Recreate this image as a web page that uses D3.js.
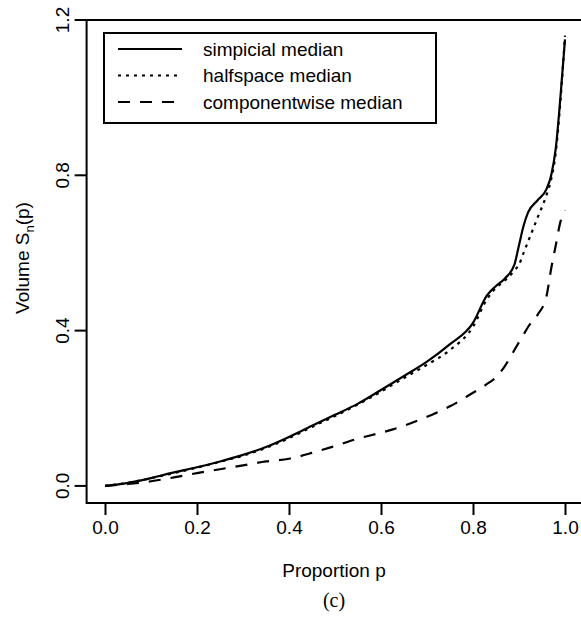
<!DOCTYPE html>
<html>
<head>
<meta charset="utf-8">
<script src="https://cdn.jsdelivr.net/npm/d3@7"></script>
<style>
  body { margin: 0; background: #fff; }
  svg { display: block; }
  text { font-family: "Liberation Sans", Arial, sans-serif; fill: #000; }
</style>
</head>
<body>
<svg width="581" height="617"></svg>
<script>
// proportion p and volume S_n(p)
const props = [0, 0.05, 0.1, 0.15, 0.2, 0.25, 0.3, 0.35, 0.4, 0.45, 0.5, 0.55, 0.6, 0.65, 0.7, 0.75, 0.8, 0.83, 0.85, 0.87, 0.89, 0.9, 0.91, 0.92, 0.94, 0.96, 0.97, 0.98, 0.99, 1.0];
const simplicial = [0, 0.008, 0.02, 0.035, 0.048, 0.063, 0.08, 0.1, 0.126, 0.155, 0.183, 0.212, 0.247, 0.283, 0.32, 0.365, 0.42, 0.49, 0.515, 0.535, 0.57, 0.62, 0.67, 0.705, 0.735, 0.765, 0.8, 0.87, 1.0, 1.15];
const halfspace = [0, 0.008, 0.02, 0.033, 0.047, 0.062, 0.078, 0.098, 0.123, 0.152, 0.18, 0.21, 0.243, 0.278, 0.312, 0.35, 0.41, 0.48, 0.51, 0.53, 0.555, 0.57, 0.6, 0.63, 0.69, 0.75, 0.79, 0.86, 0.99, 1.16];
const componentwise = [0, 0.005, 0.012, 0.022, 0.033, 0.043, 0.053, 0.063, 0.07, 0.085, 0.103, 0.122, 0.137, 0.155, 0.178, 0.205, 0.24, 0.262, 0.28, 0.31, 0.35, 0.37, 0.39, 0.41, 0.44, 0.49, 0.56, 0.62, 0.68, 0.71];

const xTicks = [0, 0.2, 0.4, 0.6, 0.8, 1.0];
const yTicks = [0, 0.4, 0.8, 1.2];
const labels = ["simpicial median", "halfspace median", "componentwise median"];
const dashes = [null, "3,5", "12,10"];

let svg = d3.select("svg");

// box goes a bit past the data like R does
let x = d3.scaleLinear().domain([-0.04, 1.04]).range([86.6, 583.4]);
let y = d3.scaleLinear().domain([-0.044, 1.2]).range([503, 20]);

// frame
svg.append("rect")
  .attr("x", x.range()[0]).attr("y", y.range()[1])
  .attr("width", x.range()[1] - x.range()[0])
  .attr("height", y.range()[0] - y.range()[1])
  .attr("fill", "none").attr("stroke", "#000").attr("stroke-width", 2);

// x axis
let gx = svg.append("g").attr("transform", "translate(0,503)")
  .call(d3.axisBottom(x).tickValues(xTicks).tickFormat(d3.format(".1f")).tickSize(12).tickPadding(6));
gx.select(".domain").remove();
gx.selectAll("line").attr("stroke-width", 2);
gx.selectAll("text").attr("font-size", 19).attr("font-family", "Liberation Sans, Arial, sans-serif");

// y axis, labels turned like R's las=0
let gy = svg.append("g").attr("transform", "translate(86.6,0)")
  .call(d3.axisLeft(y).tickValues(yTicks).tickFormat(d3.format(".1f")).tickSize(12).tickPadding(6));
gy.select(".domain").remove();
gy.selectAll("line").attr("stroke-width", 2);
gy.selectAll("text")
  .attr("font-size", 19).attr("font-family", "Liberation Sans, Arial, sans-serif")
  .attr("x", null).attr("dy", null)
  .attr("text-anchor", "middle")
  .attr("transform", d => `translate(-18,${y(d)}) rotate(-90)`)
  .attr("y", 0);
gy.selectAll(".tick").attr("transform", null);
gy.selectAll(".tick line").attr("transform", d => `translate(0,${y(d)})`);

// curves
let series = [simplicial, halfspace, componentwise];
let line = d3.line().curve(d3.curveMonotoneX).x(d => x(d[0])).y(d => y(d[1]));
series.forEach((vals, i) => {
  svg.append("path")
    .datum(props.map((p, j) => [p, vals[j]]))
    .attr("d", line)
    .attr("fill", "none").attr("stroke", "#000").attr("stroke-width", 2.2)
    .attr("stroke-dasharray", dashes[i]);
});

// legend
let lg = svg.append("g");
lg.append("rect").attr("x", 104).attr("y", 33).attr("width", 332).attr("height", 90)
  .attr("fill", "#fff").attr("stroke", "#000").attr("stroke-width", 2);
labels.forEach((t, i) => {
  let ly = 49 + i * 26.5;
  lg.append("line").attr("x1", 118).attr("x2", 182).attr("y1", ly).attr("y2", ly)
    .attr("stroke", "#000").attr("stroke-width", 2.2).attr("stroke-dasharray", dashes[i]);
  lg.append("text").attr("x", 203).attr("y", ly).attr("dy", "0.35em")
    .attr("font-size", 19).text(t);
});

// axis titles
svg.append("text").attr("x", 334).attr("y", 577).attr("text-anchor", "middle")
  .attr("font-size", 19).text("Proportion p");

let yl = svg.append("text").attr("transform", "translate(29,258) rotate(-90)")
  .attr("text-anchor", "middle").attr("font-size", 19);
yl.append("tspan").text("Volume S");
yl.append("tspan").attr("font-size", 13).attr("dy", 5).text("n");
yl.append("tspan").attr("dy", -5).text("(p)");

svg.append("text").attr("x", 334).attr("y", 607).attr("text-anchor", "middle")
  .attr("font-size", 20).style("font-family", "Liberation Serif, serif").text("(c)");
</script>
</body>
</html>
